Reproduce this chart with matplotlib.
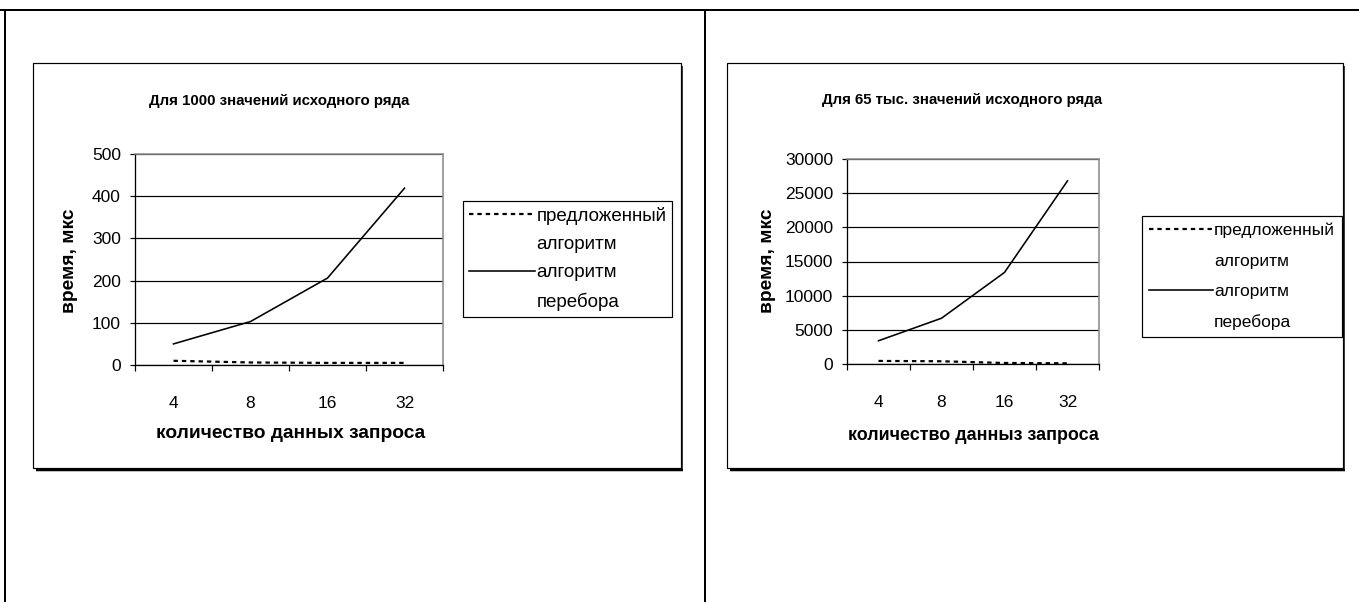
import matplotlib
matplotlib.use("Agg")
import matplotlib.pyplot as plt
from matplotlib.lines import Line2D
from matplotlib.patches import Rectangle

plt.rcParams['font.family'] = ['Liberation Sans', 'DejaVu Sans']

# ---- data ----
categories = ['4', '8', '16', '32']
ylabel_text = 'время, мкс'
series_names = [['предложенный', 'алгоритм'], ['алгоритм', 'перебора']]

left_title = 'Для 1000 значений исходного ряда'
left_xlabel = 'количество данных запроса'
left_proposed = [10, 6, 5, 5]
left_bruteforce = [50, 103, 206, 419]
left_yticks = [0, 100, 200, 300, 400, 500]

right_title = 'Для 65 тыс. значений исходного ряда'
right_xlabel = 'количество данныз запроса'
right_proposed = [450, 400, 150, 100]
right_bruteforce = [3400, 6700, 13400, 26800]
right_yticks = [0, 5000, 10000, 15000, 20000, 25000, 30000]

W, H, DPI = 1359, 602, 100
fig = plt.figure(figsize=(W / DPI, H / DPI), dpi=DPI)
fig.patch.set_facecolor('white')

PT = 72.0 / DPI  # points per pixel


def fx(x):
    return x / W


def fy(y):
    return 1 - y / H


def fig_line(x0, y0, x1, y1, lw_px, color='black'):
    fig.add_artist(Line2D([fx(x0), fx(x1)], [fy(y0), fy(y1)],
                          transform=fig.transFigure, color=color,
                          lw=lw_px * PT, solid_capstyle='butt'))


# page table frame
fig_line(0, 10, W, 10, 2)
fig_line(5, 10, 5, H, 2)
fig_line(705, 10, 705, H, 2)


def chart_box(x0, y0, x1, y1):
    fig.add_artist(Rectangle((fx(x0), fy(y1)), fx(x1 - x0), (y1 - y0) / H,
                             transform=fig.transFigure, fill=False,
                             edgecolor='black', lw=1.2 * PT))
    # drop shadow on right and bottom edges
    fig_line(x0 + 3, y1 + 1.5, x1 + 2, y1 + 1.5, 2.5)
    fig_line(x1 + 1, y0 + 3, x1 + 1, y1 + 2.5, 1.5)


def draw_chart(box, plot, title, title_xy, title_size, xlabel, xlabel_xy,
               ylabel_xy, label_size, proposed, brute, yticks, legend_xy,
               legend_size, legend_gap, legend_pad, handle_len):
    chart_box(*box)
    px0, py0, px1, py1 = plot
    ax = fig.add_axes([fx(px0), fy(py1), fx(px1 - px0), (py1 - py0) / H])
    x = [i + 0.5 for i in range(len(categories))]
    l1, = ax.plot(x, proposed, color='black', lw=2.2 * PT,
                  linestyle=(0, (2, 1.8)), dash_capstyle='butt')
    l2, = ax.plot(x, brute, color='black', lw=1.6 * PT)
    ax.set_xlim(0, len(categories))
    ax.set_ylim(yticks[0], yticks[-1])

    ax.set_xticks(range(len(categories) + 1))
    ax.set_xticklabels([])
    ax.set_xticks(x, minor=True)
    ax.set_xticklabels(categories, minor=True)
    ax.tick_params(axis='x', which='major', direction='out', length=6 * PT,
                   width=1.2 * PT, color='black')
    ax.tick_params(axis='x', which='minor', length=0, pad=31 * PT,
                   labelsize=12.5)
    ax.set_yticks(yticks)
    ax.tick_params(axis='y', direction='out', length=5 * PT, width=1.2 * PT,
                   pad=9 * PT, labelsize=12.5)

    ax.yaxis.grid(True, color='black', lw=1.2 * PT)
    ax.set_axisbelow(True)
    for s in ('left', 'bottom'):
        ax.spines[s].set_color('black')
        ax.spines[s].set_linewidth(1.3 * PT)
    for s in ('top', 'right'):
        ax.spines[s].set_color('#8c8c8c')
        ax.spines[s].set_linewidth(1.6 * PT)
    ax.spines['top'].set_zorder(5)

    fig.text(fx(title_xy[0]), fy(title_xy[1]), title, ha='center',
             va='center', fontsize=title_size, fontweight='bold')
    fig.text(fx(xlabel_xy[0]), fy(xlabel_xy[1]), xlabel, ha='center',
             va='center', fontsize=label_size, fontweight='bold')
    fig.text(fx(ylabel_xy[0]), fy(ylabel_xy[1]), ylabel_text, ha='center',
             va='center', rotation=90, fontsize=13.8, fontweight='bold')

    # legend: each series label wraps onto two rows, the key sits on the first
    blank = Line2D([], [], linestyle='none')
    handles, labels = [], []
    for line, rows in zip([l1, l2], series_names):
        handles += [line, blank]
        labels += rows
    leg = ax.legend(handles, labels, loc='upper left',
                    bbox_to_anchor=(fx(legend_xy[0]), fy(legend_xy[1])),
                    bbox_transform=fig.transFigure, borderaxespad=0,
                    fancybox=False, edgecolor='black', fontsize=legend_size,
                    handlelength=handle_len, handletextpad=0.08,
                    borderpad=legend_pad, labelspacing=legend_gap,
                    framealpha=1)
    leg.get_frame().set_linewidth(1.2 * PT)
    return ax


draw_chart(box=(33, 63, 681, 468), plot=(135, 154, 443, 365),
           title=left_title, title_xy=(279, 101), title_size=10.8,
           xlabel=left_xlabel, xlabel_xy=(291, 434), ylabel_xy=(70, 261),
           label_size=13.8,
           proposed=left_proposed, brute=left_bruteforce,
           yticks=left_yticks, legend_xy=(463, 201), legend_size=13.5,
           legend_gap=0.6, legend_pad=0.3, handle_len=3.55)

draw_chart(box=(727, 63, 1343, 468), plot=(847, 159, 1099, 364),
           title=right_title, title_xy=(962, 100), title_size=10.8,
           xlabel=right_xlabel, xlabel_xy=(973, 435), ylabel_xy=(767, 261),
           label_size=12.9,
           proposed=right_proposed, brute=right_bruteforce,
           yticks=right_yticks, legend_xy=(1142, 216), legend_size=12.5,
           legend_gap=0.88, legend_pad=0.38, handle_len=3.7)

fig.savefig('out.png', dpi=DPI)
